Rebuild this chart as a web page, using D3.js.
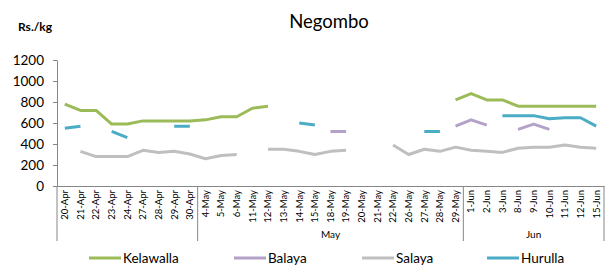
<!DOCTYPE html>
<html>
<head>
<meta charset="utf-8">
<script src="https://cdn.jsdelivr.net/npm/d3@7"></script>
<style>
body { margin: 0; background: #fff; }
text { font-family: Lato, "Open Sans", sans-serif; fill: #000; }
</style>
</head>
<body>
<script>
// categories (day labels) and the month group each one falls in
var days = ['20-Apr','21-Apr','22-Apr','23-Apr','24-Apr','27-Apr','28-Apr','29-Apr','30-Apr',
  '4-May','5-May','6-May','11-May','12-May','13-May','14-May','15-May','18-May','19-May','20-May','21-May','22-May','26-May','27-May','28-May','29-May',
  '1-Jun','2-Jun','3-Jun','8-Jun','9-Jun','10-Jun','11-Jun','12-Jun','15-Jun'];
var months = [
  {name: '', first: '20-Apr', last: '30-Apr'},
  {name: 'May', first: '4-May', last: '29-May'},
  {name: 'Jun', first: '1-Jun', last: '15-Jun'}
];
var yTicks = [0, 200, 400, 600, 800, 1000, 1200];

// Rs./kg, null = no data
var kelawalla = [780,720,720,590,590,620,620,620,620, 630,660,660,740,760,null,null,null,null,null,null,null,null,null,null,null,820, 880,820,820,760,760,760,760,760,760];
var balaya    = [null,null,null,null,null,null,null,null,null, null,null,null,null,null,null,null,null,520,520,null,null,null,null,null,null,570, 630,580,null,540,590,540,null,null,null];
var salaya    = [null,330,280,280,280,340,320,330,305, 260,290,300,null,350,350,330,300,330,340,null,null,390,300,350,330,370, 340,330,320,360,370,370,390,370,360];
var hurulla   = [550,570,null,520,460,null,null,570,570, null,null,null,null,null,null,600,580,null,null,null,null,null,null,520,520,null, null,null,670,670,670,640,650,650,570];

var series = [
  {name: 'Kelawalla', values: kelawalla, color: '#9bbb59'},
  {name: 'Balaya', values: balaya, color: '#b3a2c7'},
  {name: 'Salaya', values: salaya, color: '#bfbfbf'},
  {name: 'Hurulla', values: hurulla, color: '#4bacc6'}
];

var svg = d3.select('body').append('svg').attr('width', 607).attr('height', 269);

var x = d3.scaleBand().domain(days).range([57, 604]);
var y = d3.scaleLinear().domain([0, 1200]).range([186, 60]);

/*TITLE*/
svg.append('text').attr('x', 329).attr('y', 28).attr('text-anchor', 'middle')
    .attr('font-size', 18.5).text('Negombo');
svg.append('text').attr('x', 18).attr('y', 31).attr('font-size', 12).attr('font-weight', 'bold')
    .text('Rs./kg');

/*Y AXIS*/
var yAxis = svg.append('g').attr('transform', 'translate(57,0)')
    .call(d3.axisLeft(y).tickValues(yTicks).tickFormat(d3.format('d')).tickSize(4).tickSizeOuter(0));
yAxis.select('.domain').attr('stroke', '#868686');
yAxis.selectAll('.tick line').attr('stroke', '#868686');
yAxis.selectAll('.tick text').attr('font-size', 13.5).attr('x', -13)
    .style('font-family', 'Lato, sans-serif');

/*X AXIS*/
var xAxis = svg.append('g').attr('transform', 'translate(0,186)')
    .call(d3.axisBottom(x).tickSize(0).tickSizeOuter(0));
xAxis.select('.domain').attr('stroke', '#868686');
xAxis.selectAll('.tick text')
    .attr('transform', 'rotate(-90)')
    .attr('x', -4).attr('y', 0).attr('dy', '0.35em')
    .attr('text-anchor', 'end')
    .attr('font-size', 9.5)
    .style('font-family', 'Lato, sans-serif');

// month group separators and names
var bounds = [x.range()[0]].concat(months.map(function(m) { return x(m.last) + x.bandwidth(); }));
svg.selectAll('line.sep')
    .data(bounds)
    .enter().append('line')
        .attr('class', 'sep')
        .attr('x1', function(d) { return d; }).attr('x2', function(d) { return d; })
        .attr('y1', 186).attr('y2', 241)
        .attr('stroke', '#868686');
svg.selectAll('text.month')
    .data(months)
    .enter().append('text')
        .attr('class', 'month')
        .attr('x', function(d) { return (x(d.first) + x(d.last) + x.bandwidth()) / 2; })
        .attr('y', 238)
        .attr('text-anchor', 'middle')
        .attr('font-size', 10)
        .text(function(d) { return d.name; });

/*LINES*/
var line = d3.line()
    .defined(function(d) { return d != null; })
    .x(function(d, i) { return x(days[i]) + x.bandwidth() / 2; })
    .y(function(d) { return y(d); });

svg.selectAll('path.series')
    .data(series)
    .enter().append('path')
        .attr('class', 'series')
        .attr('d', function(d) { return line(d.values); })
        .attr('fill', 'none')
        .attr('stroke', function(d) { return d.color; })
        .attr('stroke-width', 3)
        .attr('stroke-linejoin', 'round');

/*LEGEND*/
var legendX = [89, 234, 362, 487];
var legend = svg.selectAll('g.legend')
    .data(series)
    .enter().append('g')
        .attr('class', 'legend')
        .attr('transform', function(d, i) { return 'translate(' + legendX[i] + ',258)'; });
legend.append('line')
    .attr('x1', 0).attr('x2', 32).attr('y1', 0).attr('y2', 0)
    .attr('stroke', function(d) { return d.color; })
    .attr('stroke-width', 3);
legend.append('text')
    .attr('x', 34).attr('y', 0).attr('dy', '0.35em')
    .attr('font-size', 13.5)
    .text(function(d) { return d.name; });
</script>
</body>
</html>
